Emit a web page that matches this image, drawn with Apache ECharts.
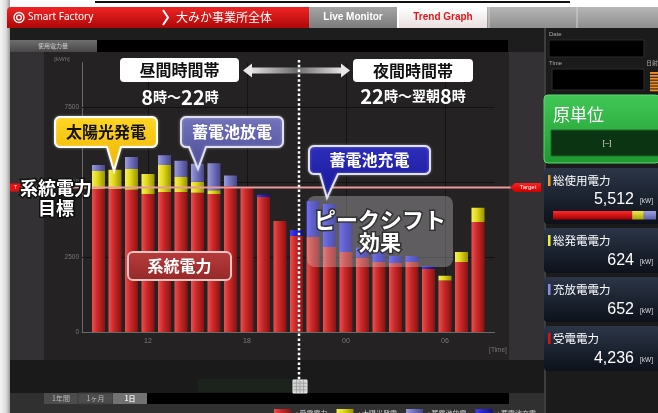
<!DOCTYPE html>
<html><head><meta charset="utf-8">
<script src="https://cdn.jsdelivr.net/npm/echarts@6/dist/echarts.min.js"></script>
<style>html,body{margin:0;padding:0;background:#fff;overflow:hidden}#c{width:658px;height:413px}</style>
</head><body><div id="c"></div>
<script>
// ---------- data ----------
const hours = ['09','10','11','12','13','14','15','16','17','18','19','20','21','22','23','00','01','02','03','04','05','06','07','08'];
const xTickLabels = ['12','18','00','06'];
const yTickValues = [2500, 5000, 7500];
const seriesNames = ['受電電力','太陽光発電','蓄電池放電','蓄電池充電'];
const received  = [4780,4780,4750,4610,4680,4680,4650,4610,4870,4800,4510,3710,3210,3180,2840,2670,2490,2340,2310,2340,2110,1720,2340,3680];
const solar     = [600,640,700,670,900,500,370,130,0,0,0,0,0,0,0,0,0,0,0,0,0,160,330,470];
const discharge = [200,0,400,0,330,540,600,900,360,0,0,0,0,0,0,0,0,0,0,0,0,0,0,0];
const charge    = [0,0,0,0,0,0,0,0,0,0,80,0,200,1200,1440,1000,330,330,230,200,80,0,0,0];
const targetValue = 4830;
const panelTitles = ['総使用電力','総発電電力','充放電電力','受電電力'];
const panelValues = [5512, 624, 652, 4236];

// ---------- helpers ----------
const JP = '"Noto Sans CJK JP", sans-serif';
const LG = echarts.graphic.LinearGradient;
const hg = (a,b,c) => new LG(0,0,1,0,[{offset:0,color:a},{offset:0.4,color:b},{offset:1,color:c}]);
const vg = (a,b) => new LG(0,0,0,1,[{offset:0,color:a},{offset:1,color:b}]);
function R(x,y,w,h,fill,o){o=o||{};return {type:'rect',silent:true,z:o.z!=null?o.z:-10,shape:{x,y,width:w,height:h,r:o.r||0},style:{fill,stroke:o.stroke||null,lineWidth:o.lw||0}};}
function L(x1,y1,x2,y2,stroke,lw,z,dash){return {type:'line',silent:true,z:z!=null?z:-10,shape:{x1,y1,x2,y2},style:{stroke,lineWidth:lw,lineDash:dash||null}};}
function T(text,x,y,o){o=o||{};return {type:'text',silent:true,z:o.z!=null?o.z:100,x,y,style:{text,fill:o.fill||'#fff',font:o.font,align:o.align||'center',verticalAlign:'middle',textAlign:o.align||'center',textVerticalAlign:'middle',stroke:o.stroke||null,lineWidth:o.lw||0,rich:o.rich}};}
function callout(x,y,w,h,r,tail){
  const pts=[];
  const arc=(cx,cy,a0,a1)=>{for(let k=0;k<=6;k++){const a=a0+(a1-a0)*k/6;pts.push([cx+r*Math.cos(a),cy+r*Math.sin(a)]);}};
  arc(x+r,y+r,Math.PI,1.5*Math.PI);
  arc(x+w-r,y+r,1.5*Math.PI,2*Math.PI);
  arc(x+w-r,y+h-r,0,0.5*Math.PI);
  if(tail){pts.push([tail[1],y+h],[tail[2],tail[3]],[tail[0],y+h]);}
  arc(x+r,y+h-r,0.5*Math.PI,Math.PI);
  return pts;
}
function P(points,fill,stroke,lw,z){return {type:'polygon',silent:true,z:z!=null?z:100,shape:{points},style:{fill,stroke,lineWidth:lw||0,shadowBlur:3,shadowColor:'rgba(255,255,255,0.35)'}};}

// ---------- background graphics ----------
const G = [];
G.push(R(0,0,658,413,'#ffffff',{z:-20}));
G.push(R(0,0,10,413,new LG(0,0,1,0,[{offset:0,color:'#f4f4f4'},{offset:0.6,color:'#dcdcdc'},{offset:1,color:'#9c9c9c'}]),{z:-19}));
G.push(L(95,2,570,2,'#111',2,-19));
// header
G.push(R(7,7,302,21,vg('#f02424','#ae0808'),{r:[4,0,0,0]}));
G.push({type:'circle',silent:true,z:-9,shape:{cx:19,cy:17.5,r:5},style:{fill:null,stroke:'#fff',lineWidth:1.3}});
G.push({type:'circle',silent:true,z:-9,shape:{cx:19,cy:17.5,r:2.4},style:{fill:null,stroke:'#fff',lineWidth:1.3}});
G.push(T('Smart Factory',28,17.5,{align:'left',font:'10px "Noto Sans", sans-serif',z:-9}));
G.push({type:'polyline',silent:true,z:-9,shape:{points:[[163,10],[168,17.5],[163,25]]},style:{stroke:'#fff',lineWidth:2,fill:null}});
G.push(T('大みか事業所全体',176,17.5,{align:'left',font:'12px '+JP,z:-9}));
G.push(R(309,7,88,21,vg('#a4a4a4','#7c7c7c')));
G.push(T('Live Monitor',353,17.5,{font:'bold 10px "Liberation Sans", sans-serif',z:-9}));
G.push(R(399,7,88,21,vg('#ffffff','#eadede')));
G.push(T('Trend Graph',443,17.5,{fill:'#e0181c',font:'bold 10px "Liberation Sans", sans-serif',z:-9}));
G.push(R(487,7,171,21,vg('#b6b6b6','#8e8e8e')));
G.push(L(489,7,489,28,'#d0d0d0',1,-9));
G.push(L(577,7,577,28,'#d0d0d0',1,-9));
// chart body
G.push(R(10,28,535,385,'#1d1d1d'));
G.push(R(10,40,87,12,vg('#6e6e6e','#484848'),{z:-9}));
G.push(T('使用電力量',53,46,{fill:'#d0d0d0',font:'6px '+JP,z:-8}));
G.push(R(97,40,411,12,'#000',{z:-9}));
G.push(R(10,52,34,308,'#333133',{z:-9}));
G.push(R(44,52,465,308,'#252224',{z:-9}));
G.push(R(509,52,36,308,'#333133',{z:-9}));
G.push(R(10,360,535,33,'#1a1a1a',{z:-9}));
G.push(R(198,379,95,13,'#1c221c',{z:-8}));
G.push(R(10,393,535,20,'#303030',{z:-9}));
G.push(R(44,393,34,11,'#4c4c4c',{z:-8}));
G.push(R(78,393,35,11,'#4c4c4c',{z:-8,stroke:'#3a3a3a',lw:1}));
G.push(R(113,393,34,11,'#727272',{z:-8}));
G.push(R(147,393,362,11,'#000',{z:-8}));
G.push(T('1年間',61,398.5,{fill:'#bbb',font:'7px '+JP,z:-7}));
G.push(T('1ヶ月',95.5,398.5,{fill:'#bbb',font:'7px '+JP,z:-7}));
G.push(T('1日',130,398.5,{fill:'#eee',font:'bold 7px '+JP,z:-7}));
G.push(T('[kWh]',62,59,{fill:'#777',font:'6px "Liberation Sans", sans-serif',z:-7}));
G.push(T('[Time]',498,350,{fill:'#777',font:'6.5px "Liberation Sans", sans-serif',z:-7}));

// right panel
G.push(R(545,28,113,385,'#1b1b1b'));
G.push(L(545,28,545,413,'#3e3e3e',2,-9));
G.push(T('Date',549,34,{align:'left',fill:'#aaa',font:'6px "Liberation Sans", sans-serif',z:-8}));
G.push(R(549,40,95,17,'#000',{z:-8,stroke:'#2c2c2c',lw:1}));
G.push(T('Time',549,63,{align:'left',fill:'#aaa',font:'6px "Liberation Sans", sans-serif',z:-8}));
G.push(T('日射',646,63,{align:'left',fill:'#aaa',font:'6px '+JP,z:-8}));
G.push(R(552,69,92,21,'#000',{z:-8,stroke:'#2c2c2c',lw:1}));
for(let k=0;k<7;k++){G.push(R(650,72+k*2.9,8,1.9,'#f09020',{z:-8}));}
G.push(R(544,95,116,68,vg('#42c856','#1e9830'),{z:-8,r:4,stroke:'#62d878',lw:1}));
G.push(T('原単位',553,115,{align:'left',font:'17px '+JP,z:-7}));
G.push(R(551,130,109,26,'#0b3512',{z:-7,stroke:'#1f6a2a',lw:1}));
G.push(T('[–]',607,143,{fill:'#ddd',font:'8px "Liberation Sans", sans-serif',z:-6}));
const panelY = [[168,224],[228,273],[277,322],[326,371]];
const markerColors = ['#f0a020','#f0f030','#8a8ad8','#e01010'];
panelTitles.forEach((t,i)=>{
  const [y0,y1] = panelY[i];
  G.push(R(544,y0,116,y1-y0,vg('#2c3648','#0c111a'),{z:-8,r:4}));
  G.push(R(548,y0+7,2.5,11,markerColors[i],{z:-7}));
  G.push(T(t,553,y0+12.5,{align:'left',font:'11.5px '+JP,z:-7}));
  const vy = i===0 ? y0+32 : y0+33;
  G.push(T(panelValues[i].toLocaleString('en-US'),634,vy,{align:'right',font:'16px "Liberation Sans", sans-serif',z:-7}));
  G.push(T('[kW]',640,vy+1,{align:'left',fill:'#ddd',font:'6.5px "Liberation Sans", sans-serif',z:-7}));
});
(function(){
  const total = panelValues[0], w = 103, x0 = 553, y = 211, h = 8.5;
  const parts = [[panelValues[3],vg('#ff2a2a','#a00000')],[panelValues[1],vg('#f0ea50','#a8a010')],[panelValues[2],vg('#a0a0e0','#6060a8')]];
  let x = x0;
  parts.forEach(([v,c])=>{const pw = v/total*w; G.push(R(x,y,pw,h,c,{z:-7})); x += pw;});
})();

// ---------- annotations ----------
G.push(R(120,58,119,24,'#fff',{z:100,r:4}));
G.push(T('昼間時間帯',179.5,70,{fill:'#111',font:'bold 16px '+JP,z:101}));
G.push(R(353,59,120,23,'#fff',{z:100,r:4}));
G.push(T('夜間時間帯',413,70.5,{fill:'#111',font:'bold 16px '+JP,z:101}));
G.push(R(250,67.5,93,6,new LG(0,0,1,0,[{offset:0,color:'#e6e6e6'},{offset:0.5,color:'#6a6a6a'},{offset:1,color:'#e6e6e6'}]),{z:98}));
G.push({type:'polygon',silent:true,z:98,shape:{points:[[243,70.5],[252,63.5],[252,77.5]]},style:{fill:'#e8e8e8'}});
G.push({type:'polygon',silent:true,z:98,shape:{points:[[350,70.5],[341,63.5],[341,77.5]]},style:{fill:'#e8e8e8'}});
const richT = {n:{fill:'#fff',fontSize:20,fontWeight:'bold',fontFamily:JP},k:{fill:'#fff',fontSize:14,fontWeight:'bold',fontFamily:JP}};
G.push(T('{n|8}{k|時～}{n|22}{k|時}',180,97,{rich:richT,font:'bold 14px '+JP,z:101}));
G.push(T('{n|22}{k|時～翌朝}{n|8}{k|時}',413,96,{rich:richT,font:'bold 14px '+JP,z:101}));

G.push(P(callout(55,117,102,30,5,[107,121,114,171]),vg('#ffd624','#eeb000'),'#ffffff',2,100));
G.push(T('太陽光発電',106,132,{fill:'#111',font:'bold 16px '+JP,z:101}));
G.push(P(callout(181,117,102,30,5,[189,206,198,169]),vg('#7474bc','#4a4a96'),'#e0e0f0',2,100));
G.push(T('蓄電池放電',232,132,{font:'bold 16px '+JP,z:101}));
G.push(P(callout(309,146,121,28,5,[320,338,327,198]),vg('#2e2ebc','#161696'),'#e0e0f0',2,100));
G.push(T('蓄電池充電',369.5,160,{font:'bold 16px '+JP,z:101}));
G.push(R(128,252,103,28,vg('#b83c3c','#962828'),{z:100,r:5,stroke:'#ecc4c4',lw:2}));
G.push(T('系統電力',179.5,266,{font:'bold 16px '+JP,z:101}));

G.push(R(307,196,146,71,'rgba(215,215,215,0.33)',{z:90,r:8}));
G.push(T('ピークシフト',380,220,{font:'bold 22px '+JP,stroke:'#333',lw:3,z:101}));
G.push(T('効果',380,242,{font:'bold 21px '+JP,stroke:'#333',lw:3,z:101}));

G.push(L(299,60,299,381,'#ffffff',2.5,99,[2.5,2.3]));
G.push(R(293,380,14,13,'#cfcfcf',{z:99,stroke:'#f0f0f0',lw:1}));
for(let k=1;k<4;k++){G.push(L(293+k*3.5,380,293+k*3.5,393,'#999',0.7,99));G.push(L(293,380+k*3.25,307,380+k*3.25,'#999',0.7,99));}

// ---------- chart ----------
const chart = echarts.init(document.getElementById('c'), null, {renderer:'canvas', width:658, height:413});
const colors = [
  hg('#ea5050','#cc2a2a','#8a1212'),
  hg('#f6ef5a','#e2da1c','#9a9200'),
  hg('#9c9cda','#7676c2','#46468c'),
  hg('#4444f2','#2626d2','#101082')
];
// category axis with one empty slot at each end (boundaryGap false)
const categories = [''].concat(hours, ['']);
const dataSets = [received, solar, discharge, charge];
const series = seriesNames.map((name,si)=>({
  name, type:'bar', stack:'total', barWidth:13, z:2,
  data: ['-'].concat(dataSets[si], ['-']),
  itemStyle:{color:colors[si]},
  emphasis:{disabled:true}
}));
series[0].markLine = {
  silent:true, symbol:'none', z:1, animation:false,
  label:{show:false},
  lineStyle:{color:'#141214',width:1,type:'solid'},
  data: yTickValues.map(v=>({yAxis:v}))
};
const showTick = (i,v) => xTickLabels.includes(v);

chart.setOption({
  animation:false,
  backgroundColor:'#ffffff',
  grid:{left:82, right:163.5, top:62.7, bottom:81, containLabel:false},
  xAxis:{
    type:'category', data:categories, boundaryGap:false,
    axisLine:{show:true,lineStyle:{color:'#6a6a6a',width:1}},
    axisTick:{show:false},
    splitLine:{show:true,interval:showTick,lineStyle:{color:'#141214',width:1}},
    axisLabel:{color:'#7c7c7c',fontSize:7,margin:6,interval:showTick,fontFamily:'"Liberation Sans", sans-serif'}
  },
  yAxis:{
    type:'value', min:0, max:9000, interval:2500,
    axisLine:{show:true,lineStyle:{color:'#6a6a6a',width:1}},
    axisTick:{show:false}, splitLine:{show:false},
    axisLabel:{color:'#777',fontSize:6.5,margin:3,showMaxLabel:false,formatter:v=>String(v),fontFamily:'"Liberation Sans", sans-serif'}
  },
  legend:{
    left:269, top:404, itemWidth:17, itemHeight:9, itemGap:9, icon:'rect', selectedMode:false,
    textStyle:{color:'#c8c8c8',fontSize:7,fontFamily:JP},
    formatter:n=>': '+n, data:seriesNames
  },
  series,
  graphic:{elements:G}
});

const ty = chart.convertToPixel({yAxisIndex:0}, targetValue);
const extra = [];
extra.push(L(20,ty,511,ty,'#e89a9a',2,50));
extra.push(R(10,ty-4,11,8,'#e81010',{z:51}));
extra.push(T('T',14,ty,{font:'5px "Liberation Sans", sans-serif',z:52,align:'left'}));
extra.push({type:'polygon',silent:true,z:51,shape:{points:[[510,ty],[515,ty-4.5],[541,ty-4.5],[541,ty+4.5],[515,ty+4.5]]},style:{fill:vg('#ff2020','#d00000')}});
extra.push(T('Target',528,ty,{font:'6px "Liberation Sans", sans-serif',z:52}));
extra.push(T('系統電力',56,ty+0.5,{font:'bold 18px '+JP,stroke:'#111',lw:3,z:102}));
extra.push(T('目標',56,ty+20.5,{font:'bold 18px '+JP,stroke:'#111',lw:3,z:102}));
chart.setOption({graphic:{elements:G.concat(extra)}}, {replaceMerge:['graphic']});
</script>
</body></html>
